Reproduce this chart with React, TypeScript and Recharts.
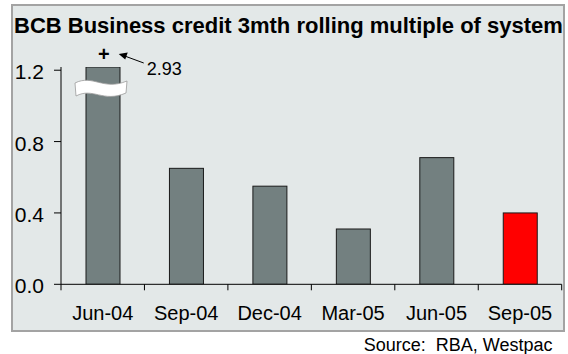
import React from 'react';
import { BarChart, Bar, XAxis, YAxis, Cell, ReferenceDot } from 'recharts';

const categories = ['Jun-04', 'Sep-04', 'Dec-04', 'Mar-05', 'Jun-05', 'Sep-05'];
const values = [2.93, 0.65, 0.55, 0.31, 0.71, 0.4];
const barColors = ['#738080', '#738080', '#738080', '#738080', '#738080', '#ff0000'];
const yTicks = [0, 0.4, 0.8, 1.2];
const yDomain: [number, number] = [0, 1.218];
const titleText = 'BCB Business credit 3mth rolling multiple of system';
const sourceText = 'Source:  RBA, Westpac';
const breakLabel = '2.93';

const data = categories.map((c, i) => ({ category: c, value: values[i] }));

const FONT = '"Liberation Sans", Arial, sans-serif';

const BarShape = (props: any) => {
  const { x, y, width, height, fill, index, background } = props;
  const top = background && typeof background.y === 'number' ? background.y : 67;
  const bottom = y + height;
  const y0 = Math.max(y, top);
  const h = bottom - y0;
  const L = x - 11;
  const R = x + width + 7;
  const t = top;
  return (
    <g>
      <rect x={x} y={y0} width={width} height={h} fill={fill} stroke="#1a1a1a" strokeWidth={1} />
      {index === 0 && (
        <path
          d={`M ${L} ${t + 16} C ${L + 18} ${t + 7} ${R - 24} ${t + 24} ${R} ${t + 14} L ${R - 1} ${t + 26} C ${R - 24} ${t + 36} ${L + 18} ${t + 20} ${L + 1} ${t + 29} Z`}
          fill="#ffffff"
          stroke="#9a9a9a"
          strokeWidth={0.8}
        />
      )}
    </g>
  );
};

const XTick = (props: any) => {
  const { x, y, payload, index, width, visibleTicksCount } = props;
  const band = width && visibleTicksCount ? width / visibleTicksCount : 83.45;
  return (
    <g>
      <line x1={x - band / 2} y1={y} x2={x - band / 2} y2={y + 6} stroke="#000" strokeWidth={1} />
      {index === (visibleTicksCount || 6) - 1 && (
        <line x1={x + band / 2} y1={y} x2={x + band / 2} y2={y + 6} stroke="#000" strokeWidth={1} />
      )}
      <text x={x} y={y + 35.7} textAnchor="middle" fill="#000" fontSize={20} fontFamily={FONT}>
        {payload.value}
      </text>
    </g>
  );
};

const YTick = (props: any) => {
  const { x, y, payload } = props;
  return (
    <text x={x} y={y + 9} textAnchor="end" fill="#000" fontSize={21} fontFamily={FONT}>
      {Number(payload.value).toFixed(1)}
    </text>
  );
};

const BreakNote = (props: any) => {
  const { cx, cy } = props;
  return (
    <g>
      <text x={cx + 1} y={cy - 6} textAnchor="middle" fontSize={20} fontWeight="bold" fontFamily={FONT} fill="#000">
        +
      </text>
      <line x1={cx + 41} y1={cy - 4} x2={cx + 22} y2={cy - 11} stroke="#000" strokeWidth={1} />
      <path d={`M ${cx + 16} ${cy - 13} L ${cx + 25} ${cy - 14.5} L ${cx + 22.5} ${cy - 7.5} Z`} fill="#000" />
      <text x={cx + 44} y={cy + 8} fontSize={18} fontFamily={FONT} fill="#000">
        {breakLabel}
      </text>
    </g>
  );
};

export default function App() {
  return (
    <div style={{ position: 'absolute', left: 0, top: 0, width: 568, height: 354 }}>
      <svg width={568} height={354} style={{ position: 'absolute', left: 0, top: 0 }}>
        <rect x={12} y={5} width={552} height={326} fill="#e3e8e8" stroke="#a3a3a3" strokeWidth={2} />
        <text x={14} y={32.5} fontSize={22} fontWeight="bold" fontFamily={FONT} fill="#000">
          {titleText}
        </text>
        <text
          x={552.5}
          y={350.5}
          fontSize={18}
          fontFamily={FONT}
          fill="#000"
          textAnchor="end"
          xmlSpace="preserve"
          style={{ whiteSpace: 'pre' }}
        >
          {sourceText}
        </text>
      </svg>
      <div style={{ position: 'absolute', left: 0, top: 0 }}>
        <BarChart
          width={568}
          height={354}
          data={data}
          margin={{ top: 67, right: 6.3, bottom: 29.7, left: 0 }}
        >
          <XAxis
            dataKey="category"
            height={40}
            axisLine={{ stroke: '#000', strokeWidth: 1 }}
            tickLine={false}
            tickSize={0}
            tickMargin={0}
            tick={<XTick />}
            interval={0}
          />
          <YAxis
            width={61}
            domain={yDomain}
            ticks={yTicks}
            allowDataOverflow
            axisLine={{ stroke: '#000', strokeWidth: 1 }}
            tickLine={{ stroke: '#000', strokeWidth: 1 }}
            tickSize={7}
            tickMargin={10}
            tick={<YTick />}
          />
          <Bar dataKey="value" barSize={34} isAnimationActive={false} shape={<BarShape />}>
            {data.map((d, i) => (
              <Cell key={d.category} fill={barColors[i]} />
            ))}
          </Bar>
          <ReferenceDot
            x={categories[0]}
            y={yDomain[1]}
            ifOverflow="visible"
            shape={<BreakNote />}
          />
        </BarChart>
      </div>
    </div>
  );
}
